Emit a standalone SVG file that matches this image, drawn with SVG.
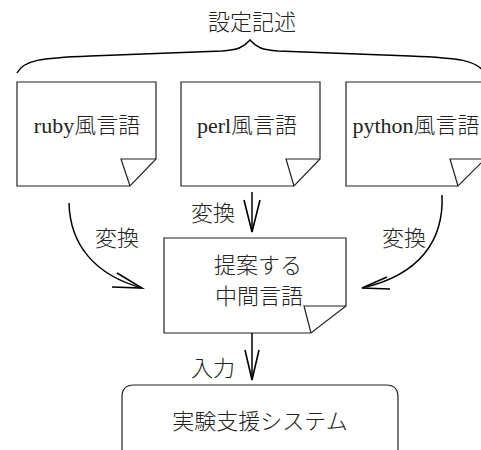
<svg xmlns="http://www.w3.org/2000/svg" width="481" height="450" viewBox="0 0 481 450">
<style>
.bg{fill:#fff}
.box{fill:#fff;stroke:#222;stroke-width:1.2}
.fold{fill:none;stroke:#222;stroke-width:1.2}
.t{font-family:"Liberation Serif","Noto Sans CJK JP",serif;font-size:22px;font-weight:300;fill:#222}
.c{text-anchor:middle}
.ln{fill:none;stroke:#000;stroke-width:1.5}
.ah{fill:none;stroke:#000;stroke-width:1.6;stroke-linejoin:miter}
</style>
<rect class="bg" x="0" y="0" width="481" height="450"/>
<g id="brace">
<path class="ln" stroke-width="1.2" d="M17,73 C24,60 40,58 90,56 L222,51 C238,50 244,47 250,40 C256,47 262,50 278,51 L410,56 C460,58 476,60 485,73"/>
<text class="t c" x="252" y="30">設定記述</text>
</g>
<g id="ruby">
<path class="box" d="M17,82 H156 V159 L130,186 H17 Z"/>
<path class="fold" d="M156,159 H121 L130,186"/>
<text class="t c" x="87" y="133">ruby風言語</text>
</g>
<g id="perl">
<path class="box" d="M181,82 H320 V159 L294,186 H181 Z"/>
<path class="fold" d="M320,159 H286 L294,186"/>
<text class="t c" x="247" y="133">perl風言語</text>
</g>
<g id="python">
<path class="box" d="M346,82 H485 V159 L458,186 H346 Z"/>
<path class="fold" d="M485,159 H450 L458,186"/>
<text class="t c" x="416" y="133">python風言語</text>
</g>
<g id="intermediate">
<path class="box" d="M164,238 H346 V306 L311,333 H164 Z"/>
<path class="fold" d="M346,306 H304 L311,333"/>
<text class="t c" x="258" y="273">提案する</text>
<text class="t c" x="259" y="304">中間言語</text>
</g>
<g id="system">
<path class="box" d="M122,460 V397 Q122,385 134,385 H386 Q398,385 398,397 V460"/>
<text class="t c" x="260" y="429">実験支援システム</text>
</g>
<g id="connectors">
<path class="ln" d="M69,203 C70,245 95,275 142,288"/>
<path class="ah" d="M117,273 L142,288 L112,287"/>
<text class="t" x="95" y="246">変換</text>
<path class="ln" d="M252,192 V232"/>
<path class="ah" d="M244,200 L252,232 L260,200"/>
<text class="t" x="191" y="221">変換</text>
<path class="ln" d="M442,195 C444,240 420,275 362,288"/>
<path class="ah" d="M387,277 L362,288 L390,289"/>
<text class="t" x="382" y="246">変換</text>
<path class="ln" d="M252,333 V380"/>
<path class="ah" d="M245,350 L252,380 L259,350"/>
<text class="t" x="191" y="376">入力</text>
</g>
</svg>
